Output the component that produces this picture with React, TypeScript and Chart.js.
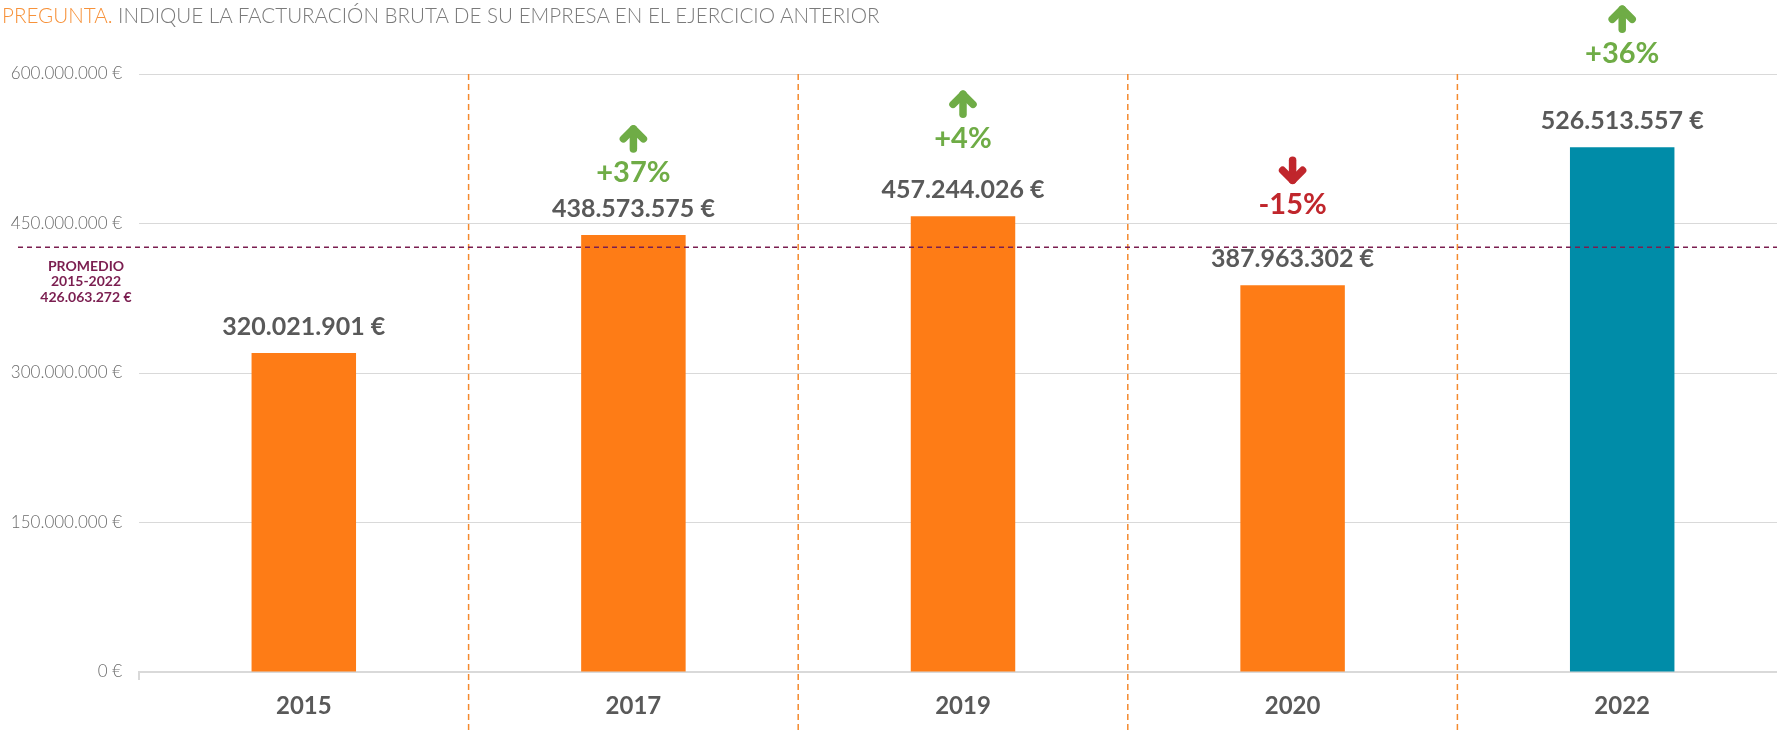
import React, { useEffect, useRef } from "react";
import { Chart, registerables } from "chart.js";

Chart.register(...registerables);

// ---- data ----
const categories = ["2015", "2017", "2019", "2020", "2022"];
const revenue = [320021901, 438573575, 457244026, 387963302, 526513557];
const changeLabels = ["", "+37%", "+4%", "-15%", "+36%"];
const changeDirection = [0, 1, 1, -1, 1];
const average = 426063272;
const averageLabel = ["PROMEDIO", "2015-2022", "426.063.272 €"];
const yMax = 600000000;
const yStep = 150000000;

// ---- style ----
const barColors = ["#FE7C16", "#FE7C16", "#FE7C16", "#FE7C16", "#008CA8"];
const changeOffsets = [0, 62, 78, 81, 94];
const FONT = "Lato, 'Open Sans', sans-serif";
const GREEN = "#6FAC46";
const RED = "#C0262C";
const MAROON = "#7B1E50";
const ORANGE_LINE = "#F58A2E";
const GRAY_TEXT = "#595959";

const fmt = (n: number) => String(Math.round(n)).replace(/\B(?=(\d{3})+(?!\d))/g, ".");

function drawArrow(ctx: CanvasRenderingContext2D, cx: number, cy: number, dir: number, color: string) {
  ctx.save();
  ctx.strokeStyle = color;
  ctx.lineWidth = 7.5;
  ctx.lineCap = "round";
  ctx.lineJoin = "round";
  ctx.setLineDash([]);
  const h = 10;
  ctx.beginPath();
  ctx.moveTo(cx, cy + h * dir);
  ctx.lineTo(cx, cy - h * dir);
  ctx.stroke();
  ctx.beginPath();
  ctx.moveTo(cx - 10, cy);
  ctx.lineTo(cx, cy - h * dir);
  ctx.lineTo(cx + 10, cy);
  ctx.stroke();
  ctx.restore();
}

const overlay = {
  id: "overlay",
  afterDatasetsDraw(chart: any) {
    const { ctx, chartArea, scales } = chart;
    const x = scales.x;
    const y = scales.y;
    ctx.save();

    // small tick at axis start
    ctx.strokeStyle = "#D9D9D9";
    ctx.lineWidth = 2;
    ctx.beginPath();
    ctx.moveTo(chartArea.left, chartArea.bottom);
    ctx.lineTo(chartArea.left, chartArea.bottom + 8);
    ctx.stroke();

    // category separators
    ctx.strokeStyle = ORANGE_LINE;
    ctx.lineWidth = 1.5;
    ctx.setLineDash([6, 4]);
    for (let i = 1; i < categories.length; i++) {
      const bx = (x.getPixelForValue(i - 1) + x.getPixelForValue(i)) / 2;
      ctx.beginPath();
      ctx.moveTo(bx, chartArea.top);
      ctx.lineTo(bx, chart.height);
      ctx.stroke();
    }

    // average line
    const ay = y.getPixelForValue(average);
    ctx.strokeStyle = MAROON;
    ctx.lineWidth = 1.5;
    ctx.setLineDash([5, 4]);
    ctx.beginPath();
    ctx.moveTo(18, ay);
    ctx.lineTo(chart.width, ay);
    ctx.stroke();
    ctx.setLineDash([]);

    // average label
    ctx.fillStyle = MAROON;
    ctx.font = `bold 14px ${FONT}`;
    ctx.textAlign = "center";
    ctx.textBaseline = "middle";
    averageLabel.forEach((t, i) => ctx.fillText(t, 86, ay + 19 + i * 15.5));

    // bar labels
    const meta = chart.getDatasetMeta(0);
    meta.data.forEach((bar: any, i: number) => {
      const top = bar.y;
      const cx = bar.x;
      ctx.fillStyle = GRAY_TEXT;
      ctx.font = `bold 25px ${FONT}`;
      ctx.textAlign = "center";
      ctx.textBaseline = "middle";
      ctx.fillText(`${fmt(revenue[i])} €`, cx, top - 26);
      if (changeLabels[i]) {
        const color = changeDirection[i] > 0 ? GREEN : RED;
        const py = top - changeOffsets[i];
        ctx.fillStyle = color;
        ctx.font = `bold 29px ${FONT}`;
        ctx.fillText(changeLabels[i], cx, py);
        drawArrow(ctx, cx, py - 34, changeDirection[i], color);
      }
    });
    ctx.restore();
  },
};

export default function App() {
  const ref = useRef<HTMLCanvasElement | null>(null);
  useEffect(() => {
    if (!ref.current) return;
    const chart = new Chart(ref.current, {
      type: "bar",
      data: {
        labels: categories,
        datasets: [
          {
            data: revenue,
            backgroundColor: barColors,
            barPercentage: 1,
            categoryPercentage: 0.317,
          },
        ],
      },
      options: {
        responsive: false,
        animation: false,
        layout: { padding: { top: 74, left: 0, right: 0, bottom: 0 } },
        plugins: { legend: { display: false }, tooltip: { enabled: false } },
        scales: {
          x: {
            grid: { display: false, drawTicks: false },
            border: { display: true, color: "#D9D9D9", width: 2 },
            ticks: {
              color: GRAY_TEXT,
              font: { family: FONT, size: 24, weight: "bold" },
              padding: 20,
            },
            afterFit: (s: any) => {
              s.height = 58;
            },
          },
          y: {
            min: 0,
            max: yMax,
            grid: { color: "#D9D9D9", lineWidth: 1, drawTicks: false },
            border: { display: false },
            ticks: {
              stepSize: yStep,
              color: "#6B6B6B",
              font: { family: FONT, size: 17, weight: "300" },
              padding: 17,
              callback: (v: any) => `${fmt(Number(v))} €`,
            },
            afterFit: (s: any) => {
              s.width = 139;
            },
          },
        },
      },
      plugins: [overlay],
    });
    return () => chart.destroy();
  }, []);

  return (
    <div
      style={{
        position: "fixed",
        left: 0,
        top: 0,
        width: 1777,
        height: 730,
        overflow: "hidden",
        background: "#fff",
      }}
    >
      <div
        style={{
          position: "absolute",
          left: 2,
          top: 3,
          fontFamily: FONT,
          fontWeight: 300,
          fontSize: 20.6,
          color: "#7A7A7A",
          whiteSpace: "nowrap",
          lineHeight: "24px",
          zIndex: 2,
        }}
      >
        <span style={{ color: "#F7923A" }}>PREGUNTA.</span> INDIQUE LA FACTURACIÓN BRUTA DE SU EMPRESA EN EL EJERCICIO ANTERIOR
      </div>
      <canvas ref={ref} width={1787} height={730} style={{ position: "absolute", left: 0, top: 0 }} />
    </div>
  );
}
